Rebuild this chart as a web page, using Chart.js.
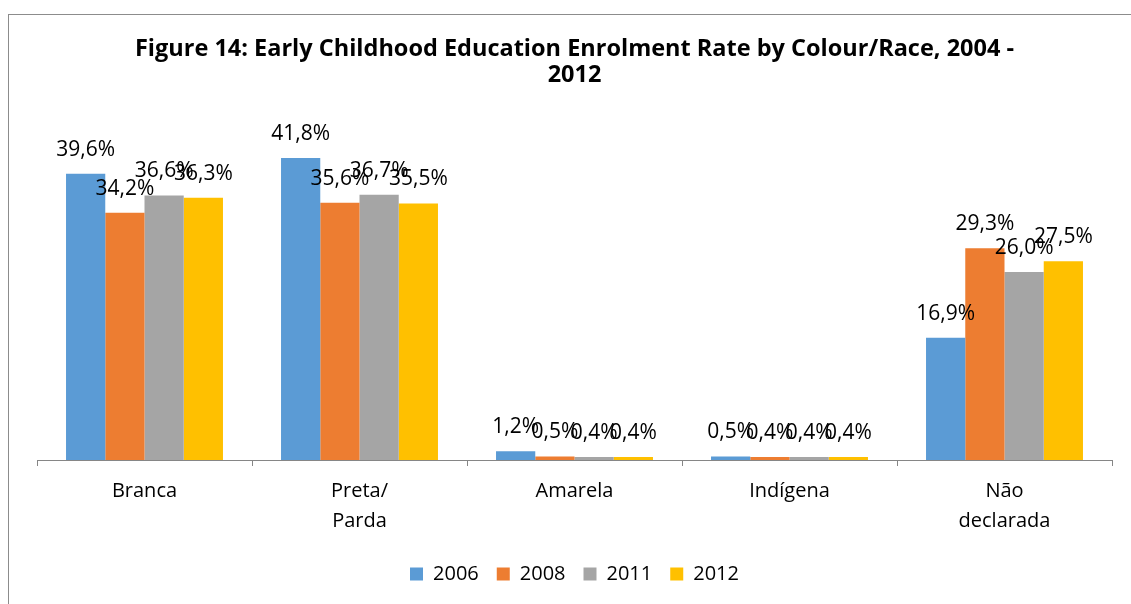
<!DOCTYPE html>
<html>
<head>
<meta charset="utf-8">
<script src="https://cdn.jsdelivr.net/npm/chart.js@4"></script>
<style>
  html, body { margin: 0; padding: 0; background: #fff; overflow: hidden; }
  #wrap { position: absolute; left: 0; top: 0; width: 1131px; height: 604px; }
  #frame { position: absolute; left: 8px; top: 14px; width: 1200px; height: 700px;
           border: 1px solid #8c8c8c; }
</style>
</head>
<body>
<div id="frame"></div>
<div id="wrap"><canvas id="grafica"></canvas></div>
<script>
// datos
const categorias = [['Branca'], ['Preta/', 'Parda'], ['Amarela'], ['Indígena'], ['Não', 'declarada']];
const anos = ['2006', '2008', '2011', '2012'];
const v2006 = [39.6, 41.8, 1.2, 0.5, 16.9];
const v2008 = [34.2, 35.6, 0.5, 0.4, 29.3];
const v2011 = [36.6, 36.7, 0.4, 0.4, 26.0];
const v2012 = [36.3, 35.5, 0.4, 0.4, 27.5];
const colores = ['#5B9BD5', '#ED7D31', '#A5A5A5', '#FFC000'];

const FUENTE = '"Open Sans", "Noto Sans", sans-serif';

// etiquetas encima de cada barra
const etiquetas = {
  id: 'etiquetas',
  afterDatasetsDraw(chart) {
    const ctx = chart.ctx;
    ctx.save();
    ctx.font = '21px ' + FUENTE;
    ctx.fillStyle = '#000';
    ctx.textAlign = 'center';
    ctx.textBaseline = 'middle';
    chart.data.datasets.forEach((ds, i) => {
      chart.getDatasetMeta(i).data.forEach((bar, j) => {
        const txt = ds.data[j].toFixed(1).replace('.', ',') + '%';
        ctx.fillText(txt, bar.x, bar.y - 24);
      });
    });
    ctx.restore();
  }
};

const series = [v2006, v2008, v2011, v2012];

new Chart(document.getElementById('grafica'), {
  type: 'bar',
  data: {
    labels: categorias,
    datasets: series.map((d, i) => ({
      label: anos[i],
      data: d,
      backgroundColor: colores[i],
      barPercentage: 1,
      categoryPercentage: 0.73
    }))
  },
  options: {
    responsive: true,
    maintainAspectRatio: false,
    animation: false,
    layout: { padding: { left: 37, right: 19, top: 20, bottom: 10 } },
    plugins: {
      title: {
        display: true,
        text: ['Figure 14: Early Childhood Education Enrolment Rate by Colour/Race, 2004 -', '2012'],
        color: '#000',
        font: { family: FUENTE, size: 23.5, weight: 'bold', lineHeight: 1.08 },
        padding: { top: 17, bottom: 47 }
      },
      legend: {
        position: 'bottom',
        labels: {
          color: '#000',
          boxWidth: 13,
          boxHeight: 13,
          padding: 18,
          font: { family: FUENTE, size: 20 }
        }
      },
      tooltip: { enabled: false }
    },
    scales: {
      x: {
        grid: { drawOnChartArea: false, drawTicks: true, tickLength: 6, color: '#868686' },
        border: { display: true, color: '#868686' },
        ticks: { color: '#000', padding: 10, font: { family: FUENTE, size: 20, lineHeight: 1.5 } }
      },
      y: {
        display: false,
        min: 0,
        max: 45
      }
    }
  },
  plugins: [etiquetas]
});
</script>
</body>
</html>
